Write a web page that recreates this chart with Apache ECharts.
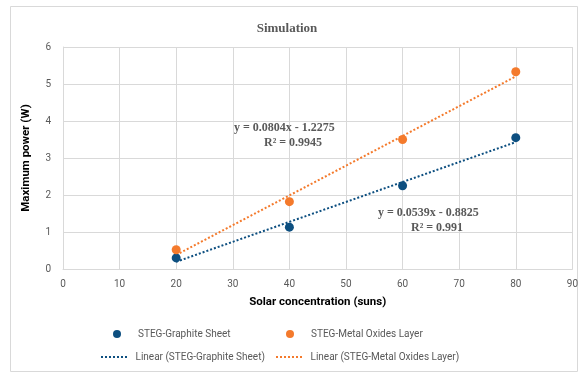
<!DOCTYPE html>
<html><head><meta charset="utf-8">
<script src="https://cdn.jsdelivr.net/npm/echarts@6/dist/echarts.min.js"></script>
<style>html,body{margin:0;padding:0;background:#fff}#c{width:581px;height:377px}</style>
</head><body><div id="c"></div>
<script>
const xValues = [20, 40, 60, 80];
const graphite = [0.30, 1.13, 2.25, 3.55];
const metalOxides = [0.52, 1.82, 3.50, 5.33];
const graphiteFit = { slope: 0.0539, intercept: -0.8825, r2: '0.991' };
const metalFit = { slope: 0.0804, intercept: -1.2275, r2: '0.9945' };
const names = ['STEG-Graphite Sheet', 'STEG-Metal Oxides Layer', 'Linear (STEG-Graphite Sheet)', 'Linear (STEG-Metal Oxides Layer)'];
const blue = '#0d4f80', orange = '#f47a2c';

function fitLine(f) { return [xValues[0], xValues[xValues.length - 1]].map(x => [x, f.slope * x + f.intercept]); }
const labFont = 'Roboto, sans-serif';
const dotted = 'path://M0,0h2v2h-2zM4,0h2v2h-2zM8,0h2v2h-2zM12,0h2v2h-2zM16,0h2v2h-2zM20,0h2v2h-2zM24,0h2v2h-2z';
function leg(name, left, top, icon, w, h, gap) {
  return { data: [{ name: name, icon: icon }], left: left, top: top, itemWidth: w, itemHeight: h, itemGap: 0,
    textStyle: { color: '#595959', fontSize: 10, fontFamily: labFont, padding: [0, 0, 0, gap] }, padding: 0 };
}
const chart = echarts.init(document.getElementById('c'));
chart.setOption({
  animation: false,
  title: { text: 'Simulation', left: 282, top: 17, textAlign: 'center',
    textStyle: { fontFamily: '"Liberation Serif", serif', fontWeight: 'bold', fontSize: 13, color: '#595959' } },
  grid: { left: 63, right: 8, top: 47, bottom: 108, containLabel: false },
  xAxis: { type: 'value', min: 0, max: 90, interval: 10,
    name: 'Solar concentration (suns)', nameLocation: 'middle', nameGap: 27,
    nameTextStyle: { fontFamily: labFont, fontWeight: 'bold', fontSize: 11.5, color: '#000' },
    axisLine: { show: true, lineStyle: { color: '#d9d9d9' } }, axisTick: { show: false },
    axisLabel: { color: '#595959', fontSize: 10, fontFamily: labFont, margin: 10 },
    splitLine: { show: true, lineStyle: { color: '#d9d9d9' } } },
  yAxis: { type: 'value', min: 0, max: 6, interval: 1,
    name: 'Maximum power (W)', nameLocation: 'middle', nameGap: 31,
    nameTextStyle: { fontFamily: labFont, fontWeight: 'bold', fontSize: 11.5, color: '#000' },
    axisLine: { show: true, lineStyle: { color: '#d9d9d9' } }, axisTick: { show: false },
    axisLabel: { color: '#595959', fontSize: 10, fontFamily: labFont, margin: 12 },
    splitLine: { show: true, lineStyle: { color: '#d9d9d9' } } },
  legend: [
    leg(names[0], 113, 329, 'circle', 8, 8, 12),
    leg(names[1], 286, 329, 'circle', 8, 8, 12),
    leg(names[2], 101, 352, dotted, 27, 2, 3),
    leg(names[3], 276, 352, dotted, 27, 2, 3)
  ],
  series: [
    { name: names[0], type: 'scatter', symbolSize: 9, itemStyle: { color: blue, opacity: 1 }, z: 5,
      data: xValues.map((x, i) => [x, graphite[i]]) },
    { name: names[1], type: 'scatter', symbolSize: 9, itemStyle: { color: orange, opacity: 1 }, z: 5,
      data: xValues.map((x, i) => [x, metalOxides[i]]) },
    { name: names[2], type: 'line', symbol: 'none', itemStyle: { color: blue },
      lineStyle: { color: blue, width: 2, type: [2, 2] }, data: fitLine(graphiteFit) },
    { name: names[3], type: 'line', symbol: 'none', itemStyle: { color: orange },
      lineStyle: { color: orange, width: 2, type: [2, 2] }, data: fitLine(metalFit) }
  ],
  graphic: [
    { type: 'rect', shape: { x: 10.5, y: 6.5, width: 567, height: 365 }, silent: true, z: -10,
      style: { fill: 'none', stroke: '#d9d9d9', lineWidth: 1 } },
    { type: 'text', left: 234, top: 120, z: 10, style: { text: 'y = 0.0804x - 1.2275\n          R² = ' + metalFit.r2, fill: '#595959',
      font: 'bold 12px "Liberation Serif", serif', lineHeight: 15 } },
    { type: 'text', left: 378, top: 205, z: 10, style: { text: 'y = 0.0539x - 0.8825\n           R² = ' + graphiteFit.r2, fill: '#595959',
      font: 'bold 12px "Liberation Serif", serif', lineHeight: 15 } }
  ]
});
</script></body></html>
